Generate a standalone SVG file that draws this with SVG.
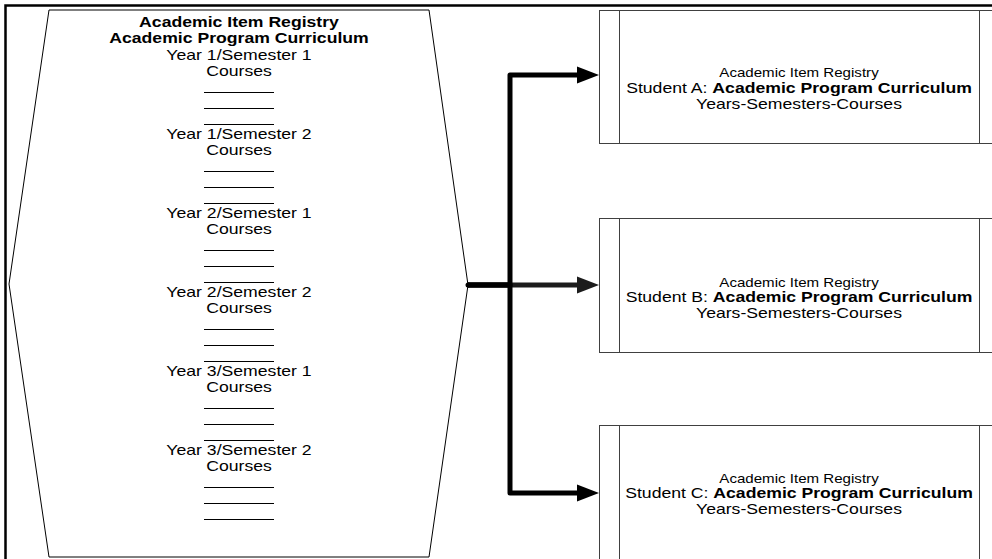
<svg xmlns="http://www.w3.org/2000/svg" width="992" height="559" viewBox="0 0 992 559">
<style>
  .t { font-family: "Liberation Sans", Arial, sans-serif; font-size: 14px; fill: #000; text-anchor: middle; }
  .b { font-weight: bold; }
  .s { font-size: 12px; }
  .shape { fill: #fff; stroke: #000; stroke-width: 1; }
  .box { fill: #fff; stroke: #404040; stroke-width: 1; }
  .rule { stroke: #000; stroke-width: 1; }
  .conn { fill: none; stroke: #000; stroke-width: 5; stroke-linejoin: round; }
</style>
<defs>
  <marker id="ah" markerUnits="userSpaceOnUse" markerWidth="22" markerHeight="18" viewBox="0 -9 22 18" refX="0" refY="0" orient="auto">
    <path d="M0,-8.5 L22,0 L0,8.5 z" fill="#000"/>
  </marker>
  <marker id="ah2" markerUnits="userSpaceOnUse" markerWidth="22" markerHeight="18" viewBox="0 -9 22 18" refX="0" refY="0" orient="auto">
    <path d="M0,-8.5 L22,0 L0,8.5 z" fill="#1c1c1c"/>
  </marker>
</defs>
<rect x="0" y="0" width="992" height="559" fill="#fff"/>
<rect x="5.5" y="5.5" width="1010" height="570" fill="none" stroke="#000" stroke-width="2.5"/>

<g id="registry">
  <polygon class="shape" points="49,10 429,10 468,285 429,557 49,557 9,284"/>
  <g transform="translate(239,0) scale(1.26,1)">
    <text class="t b" x="0" y="27">Academic Item Registry</text>
    <text class="t b" x="0" y="43">Academic Program Curriculum</text>
    <text class="t" x="0" y="60">Year 1/Semester 1</text>
    <text class="t" x="0" y="76">Courses</text>
    <text class="t" x="0" y="139">Year 1/Semester 2</text>
    <text class="t" x="0" y="155">Courses</text>
    <text class="t" x="0" y="218">Year 2/Semester 1</text>
    <text class="t" x="0" y="234">Courses</text>
    <text class="t" x="0" y="297">Year 2/Semester 2</text>
    <text class="t" x="0" y="313">Courses</text>
    <text class="t" x="0" y="376">Year 3/Semester 1</text>
    <text class="t" x="0" y="392">Courses</text>
    <text class="t" x="0" y="455">Year 3/Semester 2</text>
    <text class="t" x="0" y="471">Courses</text>
  </g>
  <g>
    <line class="rule" x1="204" y1="92.5" x2="274" y2="92.5"/>
    <line class="rule" x1="204" y1="108.5" x2="274" y2="108.5"/>
    <line class="rule" x1="204" y1="124.5" x2="274" y2="124.5"/>
    <line class="rule" x1="204" y1="171.5" x2="274" y2="171.5"/>
    <line class="rule" x1="204" y1="187.5" x2="274" y2="187.5"/>
    <line class="rule" x1="204" y1="203.5" x2="274" y2="203.5"/>
    <line class="rule" x1="204" y1="250.5" x2="274" y2="250.5"/>
    <line class="rule" x1="204" y1="266.5" x2="274" y2="266.5"/>
    <line class="rule" x1="204" y1="282.5" x2="274" y2="282.5"/>
    <line class="rule" x1="204" y1="329.5" x2="274" y2="329.5"/>
    <line class="rule" x1="204" y1="345.5" x2="274" y2="345.5"/>
    <line class="rule" x1="204" y1="361.5" x2="274" y2="361.5"/>
    <line class="rule" x1="204" y1="408.5" x2="274" y2="408.5"/>
    <line class="rule" x1="204" y1="424.5" x2="274" y2="424.5"/>
    <line class="rule" x1="204" y1="440.5" x2="274" y2="440.5"/>
    <line class="rule" x1="204" y1="487.5" x2="274" y2="487.5"/>
    <line class="rule" x1="204" y1="503.5" x2="274" y2="503.5"/>
    <line class="rule" x1="204" y1="519.5" x2="274" y2="519.5"/>
  </g>
</g>

<g id="studentA">
  <rect class="box" x="599.5" y="10.5" width="420" height="133"/>
  <line class="box" x1="619.5" y1="10.5" x2="619.5" y2="143.5"/>
  <line class="box" x1="979.5" y1="10.5" x2="979.5" y2="143.5"/>
  <g transform="translate(799,0) scale(1.26,1)">
    <text class="t s" x="0" y="77">Academic Item Registry</text>
    <text class="t" x="0" y="93">Student A: <tspan class="b">Academic Program Curriculum</tspan></text>
    <text class="t" x="0" y="109">Years-Semesters-Courses</text>
  </g>
</g>

<g id="studentB">
  <rect class="box" x="599.5" y="218.5" width="420" height="134"/>
  <line class="box" x1="619.5" y1="218.5" x2="619.5" y2="352.5"/>
  <line class="box" x1="979.5" y1="218.5" x2="979.5" y2="352.5"/>
  <g transform="translate(799,0) scale(1.26,1)">
    <text class="t s" x="0" y="287">Academic Item Registry</text>
    <text class="t" x="0" y="302">Student B: <tspan class="b">Academic Program Curriculum</tspan></text>
    <text class="t" x="0" y="318">Years-Semesters-Courses</text>
  </g>
</g>

<g id="studentC">
  <rect class="box" x="599.5" y="425.5" width="420" height="135"/>
  <line class="box" x1="619.5" y1="425.5" x2="619.5" y2="560.5"/>
  <line class="box" x1="979.5" y1="425.5" x2="979.5" y2="560.5"/>
  <g transform="translate(799,0) scale(1.26,1)">
    <text class="t s" x="0" y="483">Academic Item Registry</text>
    <text class="t" x="0" y="498">Student C: <tspan class="b">Academic Program Curriculum</tspan></text>
    <text class="t" x="0" y="514">Years-Semesters-Courses</text>
  </g>
</g>

<g id="connectors">
  <path class="conn" d="M468,285 H577" stroke="#1c1c1c" style="stroke:#1c1c1c" marker-end="url(#ah2)"/>
  <path class="conn" d="M468,285 H510 V75 H577" marker-end="url(#ah)"/>
  <path class="conn" d="M468,285 H510 V493 H577" marker-end="url(#ah)"/>
  <circle cx="468" cy="285" r="2.5" fill="#000"/>
</g>
</svg>
